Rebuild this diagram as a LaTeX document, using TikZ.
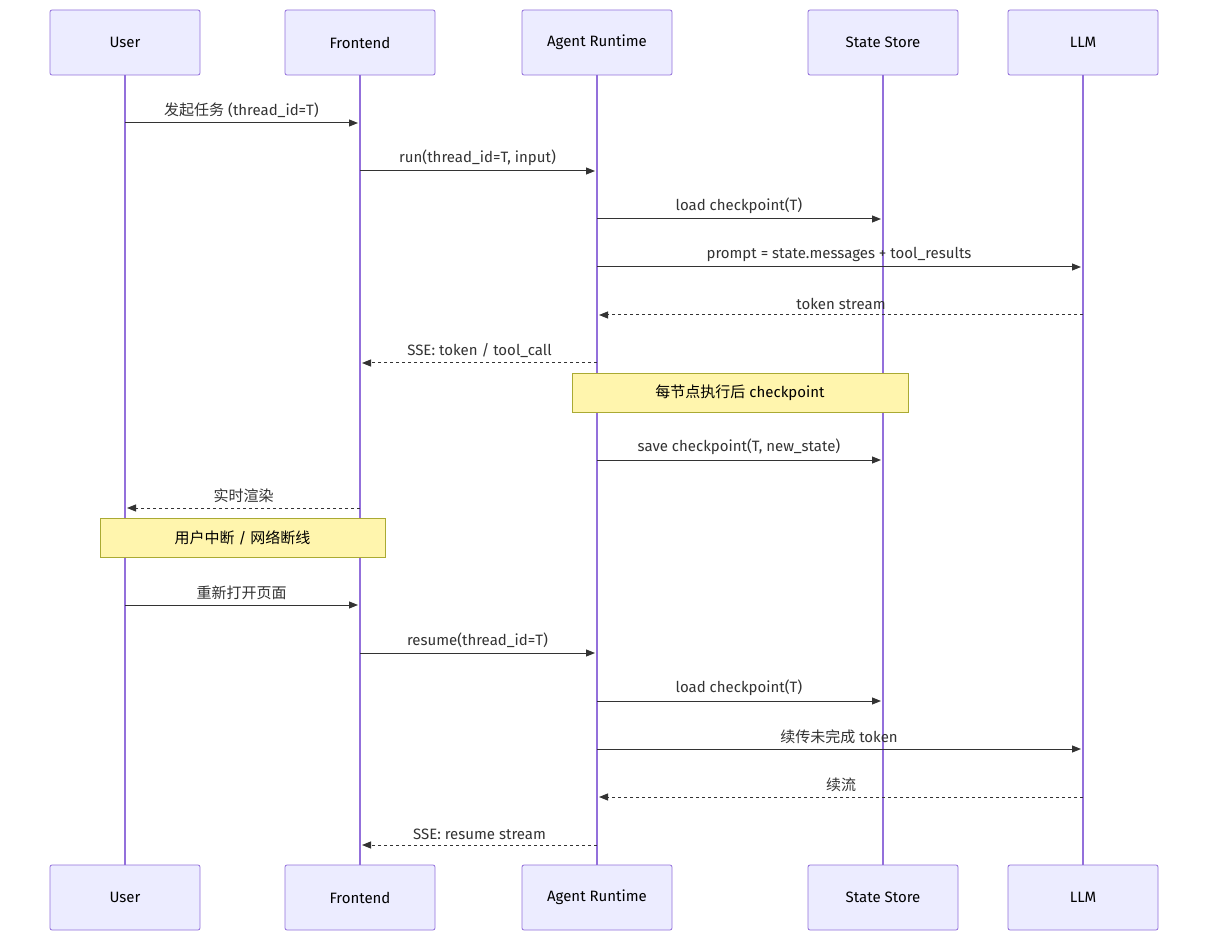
\documentclass[tikz,border=0pt]{standalone}
\usepackage{fontspec}
\setmainfont{Fira Sans}
\newfontfamily\cjk{Noto Sans CJK SC}
\usetikzlibrary{arrows.meta}
\definecolor{actfill}{HTML}{ECECFF}
\definecolor{actline}{HTML}{9370DB}
\definecolor{notefill}{HTML}{FFF5AD}
\definecolor{noteline}{HTML}{AAAA33}
\definecolor{txt}{HTML}{333333}
\begin{document}
\begin{tikzpicture}[x=1pt,y=-1pt,
  every node/.style={font=\fontsize{15}{18}\selectfont, text=txt},
  actor/.style={draw=actline,fill=actfill,rounded corners=2pt,minimum width=150pt,minimum height=65pt,inner sep=0pt,line width=0.8pt,text=black},
  life/.style={draw=actline,line width=1.3pt},
  msg/.style={draw=txt,line width=1pt,-{Triangle[length=9pt,width=7pt]}},
  rep/.style={msg,dash pattern=on 3pt off 3pt},
  lbl/.style={above=5pt,inner sep=0pt},
  notebox/.style={draw=noteline,fill=notefill,line width=0.8pt,inner sep=0pt,text=black}]
\useasboundingbox[fill=white] (0,0) rectangle (1208,941);
\foreach \n/\x/\t in {u/125/User,f/360/Frontend,a/597/Agent Runtime,s/883/State Store,l/1083/LLM}{
  \coordinate (\n) at (\x,0);
  \draw[life] (\x,75) -- (\x,865);
  \node[actor] (\n top) at (\x,42.5) {\t};
  \node[actor] (\n bot) at (\x,897.5) {\t};
}
\newcommand\msgline[5]{% style, from, to, y, label
  \coordinate (p1) at ([yshift=#4pt]#2);
  \coordinate (p2) at ([yshift=#4pt]#3);
  \draw[#1] (p1) -- (p2) node[midway,lbl] {#5};}
\def\gap{2}
\coordinate (u0) at (125,0); \coordinate (f0) at (360,0); \coordinate (a0) at (597,0); \coordinate (s0) at (883,0); \coordinate (l0) at (1083,0);
\draw[msg] (125,123) -- (358,123) node[midway,lbl] {{\cjk 发起任务} (thread\_id=T)};
\draw[msg] (360,171) -- (595,171) node[midway,lbl] {run(thread\_id=T, input)};
\draw[msg] (597,219) -- (881,219) node[midway,lbl] {load checkpoint(T)};
\draw[msg] (597,267) -- (1081,267) node[midway,lbl] {prompt = state.messages + tool\_results};
\draw[rep] (1083,315) -- (599,315) node[midway,lbl] {token stream};
\draw[rep] (597,363) -- (362,363) node[midway,lbl] {SSE: token / tool\_call};
\node[notebox,minimum width=336pt,minimum height=39pt] (n1) at (740,392.5) {{\cjk 每节点执行后} checkpoint};
\draw[msg] (597,460) -- (881,460) node[midway,lbl] {save checkpoint(T, new\_state)};
\draw[rep] (360,508) -- (127,508) node[midway,lbl] {\cjk 实时渲染};
\node[notebox,minimum width=285pt,minimum height=39pt] (n2) at (242.5,537.5) {{\cjk 用户中断} / {\cjk 网络断线}};
\draw[msg] (125,605) -- (358,605) node[midway,lbl] {\cjk 重新打开页面};
\draw[msg] (360,653) -- (595,653) node[midway,lbl] {resume(thread\_id=T)};
\draw[msg] (597,701) -- (881,701) node[midway,lbl] {load checkpoint(T)};
\draw[msg] (597,749) -- (1081,749) node[midway,lbl] {{\cjk 续传未完成} token};
\draw[rep] (1083,797) -- (599,797) node[midway,lbl] {\cjk 续流};
\draw[rep] (597,845) -- (362,845) node[midway,lbl] {SSE: resume stream};
\end{tikzpicture}
\end{document}
